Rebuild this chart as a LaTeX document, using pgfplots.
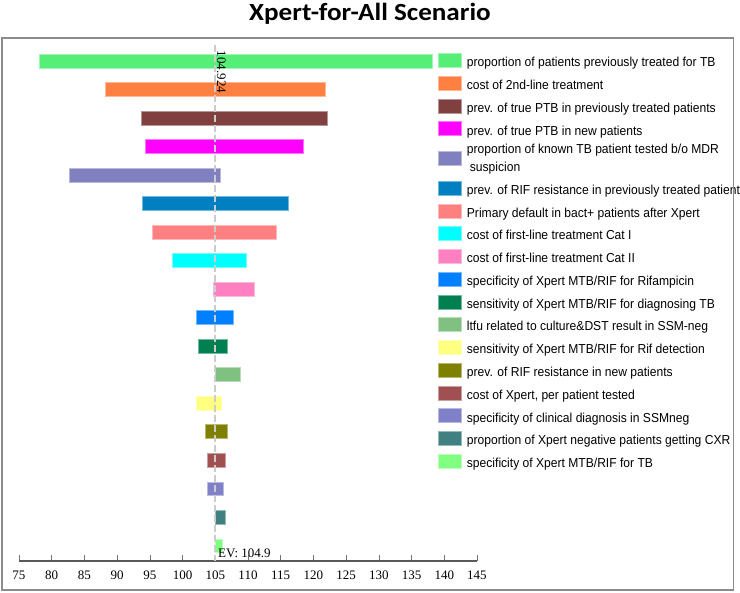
\documentclass[border=0pt]{standalone}
\usepackage{fontspec}
\usepackage{pgfplots}
\pgfplotsset{compat=1.18}
\setmainfont{Liberation Serif}
\newfontfamily\serif{Liberation Serif}
\newfontfamily\legfont[FakeStretch=0.93]{Liberation Sans}
\newfontfamily\titlefont[FakeStretch=1.1]{Carlito}
\definecolor{c1}{HTML}{55EE77}
\definecolor{c2}{HTML}{FF8040}
\definecolor{c3}{HTML}{804040}
\definecolor{c4}{HTML}{FF00FF}
\definecolor{c5}{HTML}{8080C0}
\definecolor{c6}{HTML}{0080C0}
\definecolor{c7}{HTML}{FF8080}
\definecolor{c8}{HTML}{00FFFF}
\definecolor{c9}{HTML}{FF80C0}
\definecolor{c10}{HTML}{0080FF}
\definecolor{c11}{HTML}{008050}
\definecolor{c12}{HTML}{80C080}
\definecolor{c13}{HTML}{FFFF80}
\definecolor{c14}{HTML}{808000}
\definecolor{c15}{HTML}{A05050}
\definecolor{c16}{HTML}{8080C8}
\definecolor{c17}{HTML}{408080}
\definecolor{c18}{HTML}{80FF80}
\begin{document}
\begin{tikzpicture}
\begin{axis}[
  at={(14.25pt,-420.75pt)}, anchor=south west,
  scale only axis, width=343.5pt, height=390.75pt,
  xmin=75, xmax=145, ymin=-18.537, ymax=-0.263,
  axis x line=bottom, axis y line=none,
  axis line style={-, draw=black!65, line width=1.2pt},
  every outer x axis line/.append style={-},
  xtick={75,80,...,145},
  tick align=inside, major tick length=4.5pt,
  xtick style={draw=black!55, line width=0.5pt},
  xticklabel style={font=\serif\fontsize{9.75}{11}\selectfont, yshift=-4pt},
  /pgf/number format/assume math mode=true,
  legend cell align=left,
  legend style={at={(0.91485,0.9753)}, anchor=north west, draw=none, fill=none, inner sep=0pt,
     font=\legfont\fontsize{9.75}{13.5}\selectfont,
     nodes={inner sep=0pt, align=left, execute at begin node=\strut},
     row sep=5.4pt, column sep=3.75pt},
  legend image code/.code={\fill[#1] (0pt,-4.55pt) rectangle (17.25pt,5.95pt);},
]
\addplot[fill=c1, draw=c1!55!white, line width=0.5pt] coordinates {(78.1,-1.24) (138.15,-1.24) (138.15,-0.76) (78.1,-0.76)} -- cycle;
\addlegendentry{proportion of patients previously treated for TB}
\addplot[fill=c2, draw=c2!55!white, line width=0.5pt] coordinates {(88.15,-2.24) (121.75,-2.24) (121.75,-1.76) (88.15,-1.76)} -- cycle;
\addlegendentry{cost of 2nd-line treatment}
\addplot[fill=c3, draw=c3!55!white, line width=0.5pt] coordinates {(93.7,-3.24) (122.1,-3.24) (122.1,-2.76) (93.7,-2.76)} -- cycle;
\addlegendentry{prev. of true PTB in previously treated patients}
\addplot[fill=c4, draw=c4!55!white, line width=0.5pt] coordinates {(94.25,-4.24) (118.5,-4.24) (118.5,-3.76) (94.25,-3.76)} -- cycle;
\addlegendentry{prev. of true PTB in new patients}
\addplot[fill=c5, draw=c5!55!white, line width=0.5pt] coordinates {(82.75,-5.24) (105.8,-5.24) (105.8,-4.76) (82.75,-4.76)} -- cycle;
\addlegendentry{proportion of known TB patient tested b/o MDR\\\hspace*{2.25pt}suspicion}
\addplot[fill=c6, draw=c6!55!white, line width=0.5pt] coordinates {(93.8,-6.24) (116.1,-6.24) (116.1,-5.76) (93.8,-5.76)} -- cycle;
\addlegendentry{prev. of RIF resistance in previously treated patient}
\addplot[fill=c7, draw=c7!55!white, line width=0.5pt] coordinates {(95.4,-7.24) (114.3,-7.24) (114.3,-6.76) (95.4,-6.76)} -- cycle;
\addlegendentry{Primary default in bact+ patients after Xpert}
\addplot[fill=c8, draw=c8!55!white, line width=0.5pt] coordinates {(98.4,-8.24) (109.7,-8.24) (109.7,-7.76) (98.4,-7.76)} -- cycle;
\addlegendentry{cost of first-line treatment Cat I}
\addplot[fill=c9, draw=c9!55!white, line width=0.5pt] coordinates {(104.7,-9.24) (111.0,-9.24) (111.0,-8.76) (104.7,-8.76)} -- cycle;
\addlegendentry{cost of first-line treatment Cat II}
\addplot[fill=c10, draw=c10!55!white, line width=0.5pt] coordinates {(102.1,-10.24) (107.8,-10.24) (107.8,-9.76) (102.1,-9.76)} -- cycle;
\addlegendentry{specificity of Xpert MTB/RIF for Rifampicin}
\addplot[fill=c11, draw=c11!55!white, line width=0.5pt] coordinates {(102.4,-11.24) (106.9,-11.24) (106.9,-10.76) (102.4,-10.76)} -- cycle;
\addlegendentry{sensitivity of Xpert MTB/RIF for diagnosing TB}
\addplot[fill=c12, draw=c12!55!white, line width=0.5pt] coordinates {(105.0,-12.24) (108.9,-12.24) (108.9,-11.76) (105.0,-11.76)} -- cycle;
\addlegendentry{ltfu related to culture\&DST result in SSM-neg}
\addplot[fill=c13, draw=c13!55!white, line width=0.5pt] coordinates {(102.1,-13.24) (106.0,-13.24) (106.0,-12.76) (102.1,-12.76)} -- cycle;
\addlegendentry{sensitivity of Xpert MTB/RIF for Rif detection}
\addplot[fill=c14, draw=c14!55!white, line width=0.5pt] coordinates {(103.5,-14.24) (106.8,-14.24) (106.8,-13.76) (103.5,-13.76)} -- cycle;
\addlegendentry{prev. of RIF resistance in new patients}
\addplot[fill=c15, draw=c15!55!white, line width=0.5pt] coordinates {(103.85,-15.24) (106.5,-15.24) (106.5,-14.76) (103.85,-14.76)} -- cycle;
\addlegendentry{cost of Xpert, per patient tested}
\addplot[fill=c16, draw=c16!55!white, line width=0.5pt] coordinates {(103.8,-16.24) (106.2,-16.24) (106.2,-15.76) (103.8,-15.76)} -- cycle;
\addlegendentry{specificity of clinical diagnosis in SSMneg}
\addplot[fill=c17, draw=c17!55!white, line width=0.5pt] coordinates {(105.0,-17.24) (106.5,-17.24) (106.5,-16.76) (105.0,-16.76)} -- cycle;
\addlegendentry{proportion of Xpert negative patients getting CXR}
\addplot[fill=c18, draw=c18!55!white, line width=0.5pt] coordinates {(105.0,-18.24) (106.15,-18.24) (106.15,-17.76) (105.0,-17.76)} -- cycle;
\addlegendentry{specificity of Xpert MTB/RIF for TB}
\addplot[forget plot, draw=black!20, line width=1.4pt, dash pattern=on 5pt off 2.5pt] coordinates {(104.924,-0.44) (104.924,-18.537)};
\node[anchor=base west, rotate=-90, inner sep=0pt, font=\serif\fontsize{9.75}{11}\selectfont] at (axis cs:105.3,-0.638) {104.924};
\node[anchor=base west, inner sep=0pt, font=\serif\fontsize{9.75}{11}\selectfont] at (axis cs:105.41,-18.42) {EV: 104.9};
\end{axis}
\begin{scope}[x=0.75pt,y=-0.75pt]
\draw[black!45, line width=1.1pt] (2,38) rectangle (733.5,590);
\node[anchor=base, inner sep=0pt, font=\titlefont\bfseries\fontsize{18.5}{22}\selectfont] at (370,20.7) {Xpert-for-All Scenario};
\pgfresetboundingbox
\path[use as bounding box] (0,0) rectangle (740,593);
\end{scope}
\end{tikzpicture}
\end{document}
